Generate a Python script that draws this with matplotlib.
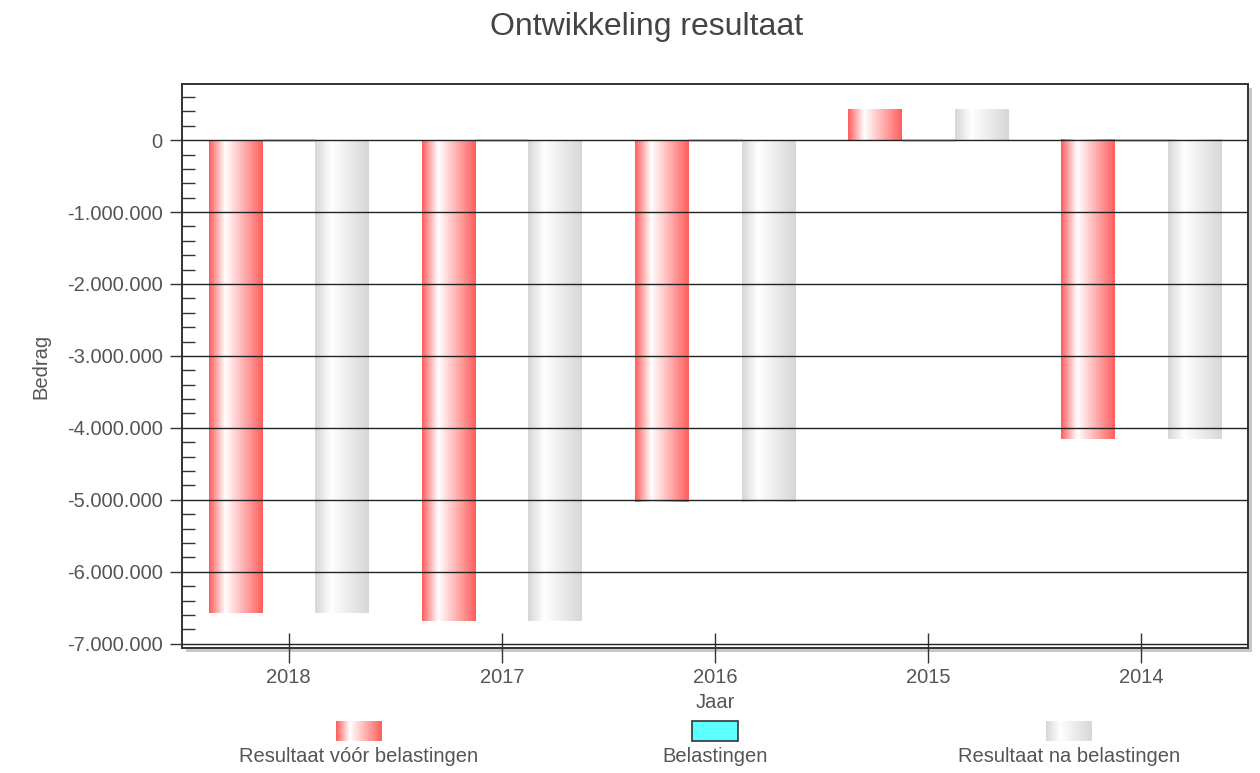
import matplotlib
matplotlib.use("Agg")
import matplotlib.pyplot as plt
import numpy as np
from matplotlib.patches import Rectangle
from matplotlib.ticker import MultipleLocator, FuncFormatter

plt.rcParams['font.family'] = ['Liberation Sans', 'DejaVu Sans']

jaren = ['2018', '2017', '2016', '2015', '2014']
voor_belasting = [-6570000, -6680000, -5030000, 420000, -4160000]
belastingen = [0, 0, 0, 0, 0]
na_belasting = [-6570000, -6680000, -5030000, 420000, -4160000]
reeksen = ['Resultaat vóór belastingen', 'Belastingen', 'Resultaat na belastingen']

tekst = '#555555'


def gradient(rand, n=64):
    # randkleur -> wit (op ~30%) -> randkleur
    t = np.linspace(0, 1, n)
    w = np.where(t < 0.3, t / 0.3, 1 - (t - 0.3) / 0.7)
    w = np.clip(w, 0, 1)[:, None]
    rand = np.array(rand) / 255.0
    return (rand * (1 - w) + w)[None, :, :]


rood = gradient((255, 95, 95))
grijs = gradient((215, 215, 215))

fig = plt.figure(figsize=(12.6, 7.73), dpi=100)
ax = fig.add_axes([182 / 1260, 125 / 773, 1066 / 1260, 564 / 773])

x = np.arange(len(jaren))
w = 0.25
b1 = ax.bar(x - w, voor_belasting, w, color='none', zorder=3)
b2 = ax.bar(x, belastingen, w, color='#5cffff', edgecolor='#333333', zorder=3)
b3 = ax.bar(x + w, na_belasting, w, color='none', zorder=3)

for bars, img in ((b1, rood), (b3, grijs)):
    for p in bars:
        x0, y0 = p.get_x(), p.get_y()
        h = p.get_height()
        if h == 0:
            continue
        ax.imshow(img, extent=(x0, x0 + p.get_width(), y0, y0 + h),
                  aspect='auto', zorder=2, interpolation='bilinear')

ax.set_xlim(-0.5, len(jaren) - 0.5)
ax.set_ylim(-7060000, 780000)
ax.set_xticks(x)
ax.set_xticklabels(jaren)
ax.yaxis.set_major_locator(MultipleLocator(1000000))
ax.yaxis.set_minor_locator(MultipleLocator(200000))
ax.yaxis.set_major_formatter(FuncFormatter(lambda v, p: f"{v:,.0f}".replace(",", ".")))
ax.grid(axis='y', which='major', color='#222222', linewidth=1, zorder=1)
ax.set_axisbelow(False)

ax.tick_params(axis='x', direction='inout', length=21, width=1, color='#333333',
               labelsize=14.5, labelcolor=tekst, pad=4)
ax.tick_params(axis='y', which='major', direction='out', length=9, width=1,
               color='#333333', labelsize=14.5, labelcolor=tekst, pad=5)
ax.tick_params(axis='y', which='minor', direction='in', length=9, width=1, color='#333333')
for s in ax.spines.values():
    s.set_color('#333333')
    s.set_linewidth(1.4)

ax.set_xlabel('Jaar', fontsize=14.5, color=tekst, labelpad=4)
ax.set_ylabel('Bedrag', fontsize=14.5, color=tekst, labelpad=12)

# schaduw rond het kader
fig.patches.append(Rectangle((186 / 1260, 121 / 773), 1066 / 1260, 564 / 773,
                             transform=fig.transFigure, facecolor='#c8c8c8',
                             edgecolor='none', zorder=-1))
ax.set_facecolor('white')

fig.text(647 / 1260, 1 - 27 / 773, 'Ontwikkeling resultaat', fontsize=23,
         color='#444444', ha='center', va='center')

# legenda
midden = [359, 715, 1069]
for i, naam in enumerate(reeksen):
    cx = midden[i]
    if i == 1:
        fig.patches.append(Rectangle(((cx - 23) / 1260, 32 / 773), 46 / 1260, 20 / 773,
                                     transform=fig.transFigure, facecolor='#5cffff',
                                     edgecolor='#333333', linewidth=1.2))
    else:
        la = fig.add_axes([(cx - 23) / 1260, 32 / 773, 46 / 1260, 20 / 773])
        la.imshow(rood if i == 0 else grijs, aspect='auto', interpolation='bilinear')
        la.axis('off')
    fig.text(cx / 1260, 16 / 773, naam, fontsize=14.5, color=tekst,
             ha='center', va='center')

fig.savefig('out.png', dpi=100)
